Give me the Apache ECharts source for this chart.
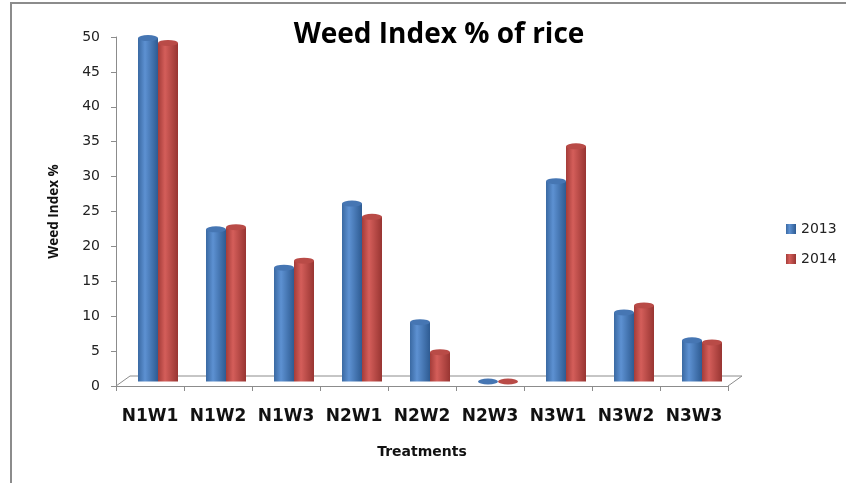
<!DOCTYPE html>
<html><head><meta charset="utf-8">
<script src="https://cdn.jsdelivr.net/npm/echarts@6/dist/echarts.min.js"></script>
<style>
html,body{margin:0;padding:0;background:#fff;}
#frame{position:absolute;left:10px;top:2px;width:836px;height:481px;border-left:2px solid #8c8c8c;border-top:2px solid #8c8c8c;box-sizing:border-box;}
#c{position:absolute;left:0;top:0;width:846px;height:483px;}
</style></head>
<body>
<div id="frame"></div>
<div id="c"></div>
<script>
const categories = ['N1W1','N1W2','N1W3','N2W1','N2W2','N2W3','N3W1','N3W2','N3W3'];
const values2013 = [49.2, 21.8, 16.3, 25.5, 8.5, 0, 28.7, 9.9, 5.9];
const values2014 = [48.5, 22.1, 17.3, 23.6, 4.2, 0, 33.7, 10.9, 5.6];
const seriesNames = ['2013','2014'];
const yTicks = [0,5,10,15,20,25,30,35,40,45,50];

const chart = echarts.init(document.getElementById('c'), null, {renderer:'canvas'});
function cyl(c1, c2, c3){
  return {type:'linear',x:0,y:0,x2:1,y2:0,colorStops:[
    {offset:0,color:c1},{offset:0.35,color:c2},{offset:1,color:c3}]};
}
const blue = cyl('#3a69a2','#5d91d2','#2e5b92');
const red = cyl('#a43c39','#d45e5a','#983532');
const bw = 20;
// front (axis) frame and depth-shifted frame for the columns
const G = {left:116, right:118, top:37, bottom:97};
const D = {dx:8, dy:4.5};
const GB = {left:G.left+D.dx, right:G.right-D.dx, top:G.top-D.dy, bottom:G.bottom+D.dy};
const W = 846, H = 483;
const fx0 = G.left, fx1 = W-G.right, fy = H-G.bottom;
const depth = {dx:14, dy:10};
const axisGray = '#8c8c8c';

chart.setOption({
  animation:false,
  title:{text:'Weed Index % of rice',left:434,top:16,textAlign:'center',
    textStyle:{fontFamily:'Open Sans',fontWeight:'bold',fontSize:28,color:'#000'}},
  legend:{orient:'vertical',left:781,top:217,itemWidth:10,itemHeight:10,itemGap:16,
    data:seriesNames.map(n=>({name:n,icon:'rect'})),
    textStyle:{fontFamily:'DejaVu Sans',fontSize:14,color:'#222'}},
  grid:[Object.assign({containLabel:false},G), Object.assign({containLabel:false},GB)],
  xAxis:[
    {type:'category',data:categories,gridIndex:0,
      axisLine:{lineStyle:{color:axisGray,width:1}},
      axisTick:{show:true,length:5,lineStyle:{color:axisGray}},
      axisLabel:{interval:0,margin:22,fontFamily:'DejaVu Sans',fontWeight:'bold',fontSize:17,color:'#111'},
      name:'Treatments',nameLocation:'middle',nameGap:59,
      nameTextStyle:{fontFamily:'DejaVu Sans',fontWeight:'bold',fontSize:14,color:'#111'}},
    {type:'category',data:categories,gridIndex:1,show:false}
  ],
  yAxis:[
    {type:'value',min:0,max:50,interval:5,gridIndex:0,
      axisLine:{show:true,lineStyle:{color:axisGray}},
      axisTick:{show:true,length:5,lineStyle:{color:axisGray}},
      splitLine:{show:false},
      axisLabel:{margin:16,fontFamily:'DejaVu Sans',fontSize:14,color:'#222',
        formatter:v=>yTicks.includes(v)?String(v):''},
      name:'Weed Index %',nameLocation:'middle',nameGap:55,
      nameTextStyle:{fontFamily:'Open Sans',fontWeight:'bold',fontSize:13.5,color:'#111'}},
    {type:'value',min:0,max:50,interval:5,gridIndex:1,show:false}
  ],
  graphic:[{type:'polyline',silent:true,z:1,
    shape:{points:[[fx0,fy],[fx0+depth.dx,fy-depth.dy],[fx1+depth.dx,fy-depth.dy],[fx1,fy]]},
    style:{stroke:axisGray,fill:null,lineWidth:1}}],
  series:[
    {name:seriesNames[0],type:'bar',data:values2013,barWidth:bw,barGap:'0%',xAxisIndex:1,yAxisIndex:1,
      itemStyle:{color:blue},z:2},
    {name:seriesNames[1],type:'bar',data:values2014,barWidth:bw,barGap:'0%',xAxisIndex:1,yAxisIndex:1,
      itemStyle:{color:red},z:2},
    {name:seriesNames[0],type:'pictorialBar',data:values2013,symbol:'circle',symbolSize:[bw,6],
      barWidth:bw,barGap:'0%',symbolPosition:'end',symbolOffset:[0,'-50%'],xAxisIndex:1,yAxisIndex:1,
      itemStyle:{color:'#4676b3'},z:3,legendHoverLink:false},
    {name:seriesNames[1],type:'pictorialBar',data:values2014,symbol:'circle',symbolSize:[bw,6],
      barWidth:bw,barGap:'0%',symbolPosition:'end',symbolOffset:[0,'-50%'],xAxisIndex:1,yAxisIndex:1,
      itemStyle:{color:'#b94b47'},z:3,legendHoverLink:false}
  ],
  color:['#4f81bd','#c0504d']
});
</script>
</body></html>
